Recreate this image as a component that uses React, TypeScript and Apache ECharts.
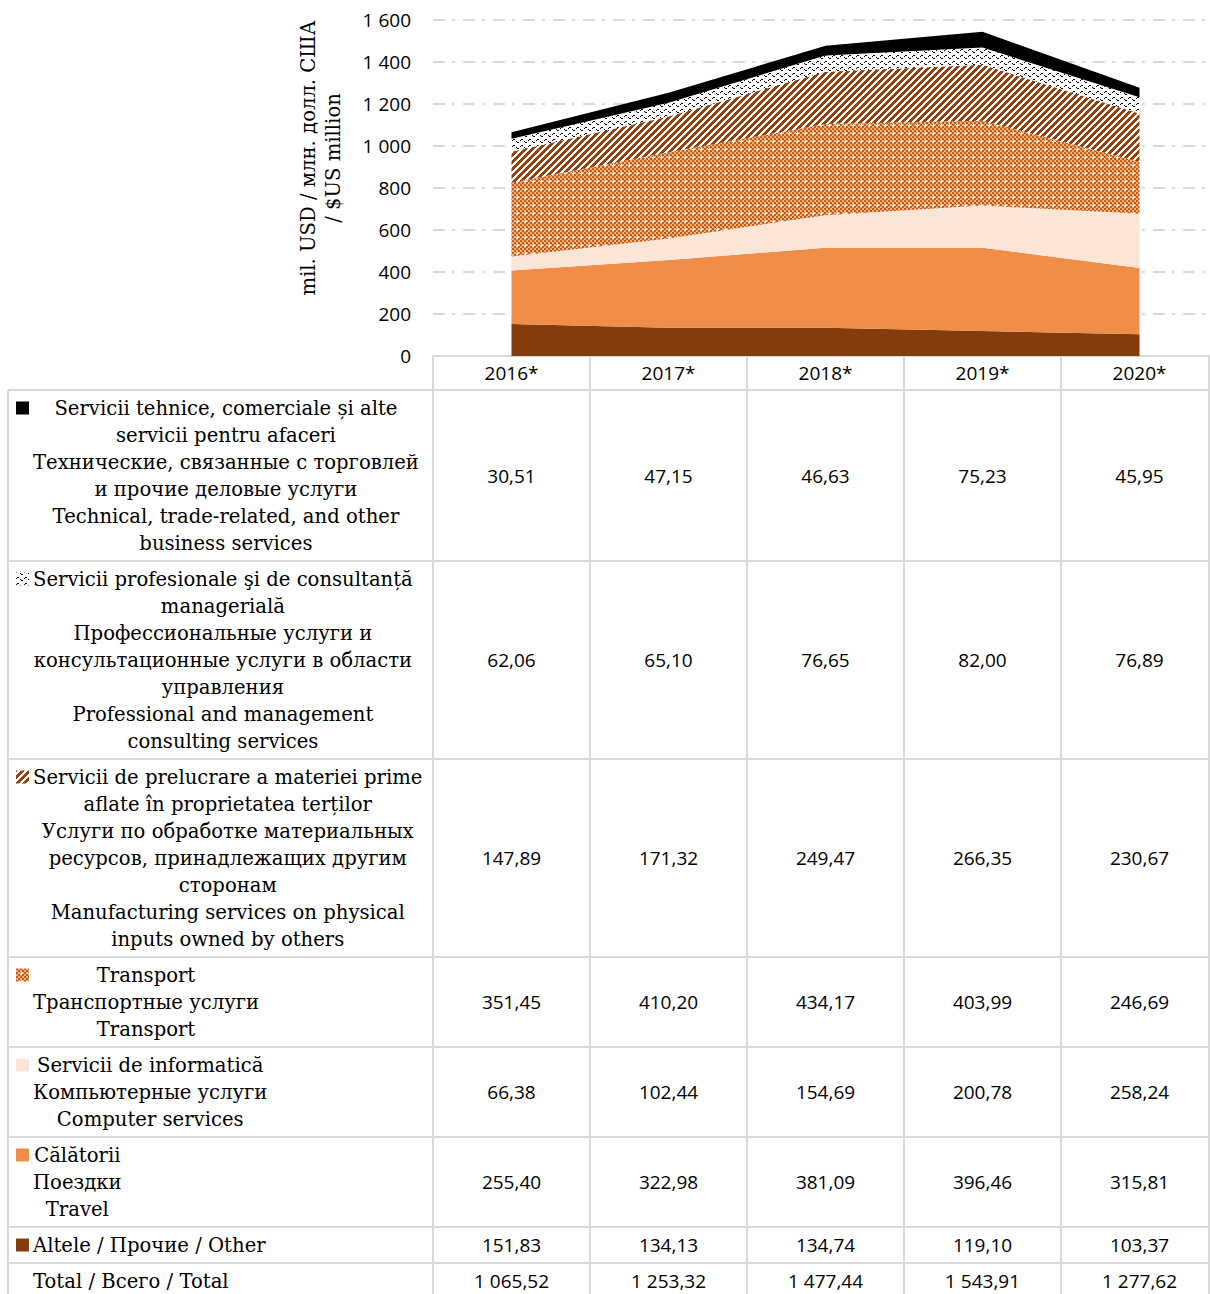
import { useEffect, useRef } from "react";
import * as echarts from "echarts";

const categories = ["2016*", "2017*", "2018*", "2019*", "2020*"];
const technical = [30.51, 47.15, 46.63, 75.23, 45.95];
const professional = [62.06, 65.1, 76.65, 82.0, 76.89];
const manufacturing = [147.89, 171.32, 249.47, 266.35, 230.67];
const transport = [351.45, 410.2, 434.17, 403.99, 246.69];
const computer = [66.38, 102.44, 154.69, 200.78, 258.24];
const travel = [255.4, 322.98, 381.09, 396.46, 315.81];
const other = [151.83, 134.13, 134.74, 119.1, 103.37];

const technicalLabel = [
  "Servicii tehnice, comerciale și alte",
  "servicii pentru afaceri",
  "Технические, связанные с торговлей",
  "и прочие деловые услуги",
  "Technical, trade-related, and other",
  "business services",
];
const professionalLabel = [
  "Servicii profesionale şi de consultanță",
  "managerială",
  "Профессиональные услуги и",
  "консультационные услуги в области",
  "управления",
  "Professional and management",
  "consulting services",
];
const manufacturingLabel = [
  "Servicii de prelucrare a materiei prime",
  "aflate în proprietatea terților",
  "Услуги по обработке материальных",
  "ресурсов, принадлежащих другим",
  "сторонам",
  "Manufacturing services on physical",
  "inputs owned by others",
];
const transportLabel = ["Transport", "Транспортные услуги", "Transport"];
const computerLabel = ["Servicii de informatică", "Компьютерные услуги", "Computer services"];
const travelLabel = ["Călătorii", "Поездки", "Travel"];
const otherLabel = ["Altele / Прочие / Other"];
const totalLabel = ["Total / Всего / Total"];
const axisTitle = ["mil. USD / млн. долл. США", "/ $US million"];

const GRID = "#d9d9d9";
const SANS = "'Open Sans', 'Noto Sans', sans-serif";
const SERIF = "'DejaVu Serif', serif";

function makePattern(w: number, h: number, bg: string, painter: (x: number, y: number) => string | null) {
  const c = document.createElement("canvas");
  c.width = w;
  c.height = h;
  const ctx = c.getContext("2d")!;
  ctx.fillStyle = bg;
  ctx.fillRect(0, 0, w, h);
  for (let y = 0; y < h; y++) {
    for (let x = 0; x < w; x++) {
      const col = painter(x, y);
      if (col) {
        ctx.fillStyle = col;
        ctx.fillRect(x, y, 1, 1);
      }
    }
  }
  return { image: c.toDataURL(), repeat: "repeat", imageWidth: w, imageHeight: h } as any;
}

function fmt(v: number) {
  const s = v.toFixed(2);
  const [i, d] = s.split(".");
  const ii = i.length > 3 ? i.slice(0, i.length - 3) + " " + i.slice(i.length - 3) : i;
  return ii + "," + d;
}

export default function App() {
  const ref = useRef<HTMLDivElement>(null);
  useEffect(() => {
    const chart = echarts.init(ref.current!, null, { renderer: "svg" });

    const hatch = makePattern(7, 7, "#ffffff", (x, y) => ((x + y) % 7 < 4 ? "#93420f" : null));
    const dots = makePattern(8, 8, "#f4b183", (x, y) => {
      if ((x === 5 && y >= 4 && y <= 6) || (y === 5 && x >= 4 && x <= 6)) return "#ffffff";
      return ((x >> 1) + (y >> 1)) % 2 === 0 ? "#c55a11" : null;
    });
    const waveY = [2, 1, 1, 2, 3, 4, 4, 3];
    const waves = makePattern(8, 6, "#ffffff", (x, y) => (waveY[x] === y && x % 4 !== 3 ? "#000000" : null));

    const fills = {
      technical: "#000000",
      professional: waves,
      manufacturing: hatch,
      transport: dots,
      computer: "#fbe5d6",
      travel: "#f08d49",
      other: "#843c0c",
    };

    const mk = (name: string, data: number[], color: any) => ({
      name,
      type: "line",
      stack: "all",
      data,
      symbol: "none",
      showSymbol: false,
      silent: true,
      lineStyle: { width: 0 },
      areaStyle: { color, opacity: 1 },
      emphasis: { disabled: true },
    });

    chart.setOption({
      animation: false,
      backgroundColor: "#ffffff",
      grid: { left: 433, top: 20, right: -8, height: 336, containLabel: false, outerBoundsMode: "none" },
      xAxis: {
        type: "category",
        data: categories,
        boundaryGap: true,
        axisLine: { show: true, lineStyle: { color: GRID, width: 2 } },
        axisTick: { show: false },
        axisLabel: { margin: 7, color: "#000", fontFamily: SANS, fontSize: 19 },
        splitLine: { show: false },
      },
      yAxis: {
        type: "value",
        min: 0,
        max: 1600,
        interval: 200,
        axisLine: { show: false },
        axisTick: { show: false },
        axisLabel: {
          margin: 22,
          color: "#000",
          fontFamily: SANS,
          fontSize: 19,
          formatter: (v: number) => (v >= 1000 ? String(v).replace(/(\d)(\d{3})$/, "$1 $2") : String(v)),
        },
        splitLine: { show: true, lineStyle: { color: GRID, width: 2, type: [12, 7, 3, 8] } },
      },
      series: [
        mk("Other", other, fills.other),
        mk("Travel", travel, fills.travel),
        mk("Computer", computer, fills.computer),
        mk("Transport", transport, fills.transport),
        mk("Manufacturing", manufacturing, fills.manufacturing),
        mk("Professional", professional, fills.professional),
        mk("Technical", technical, fills.technical),
      ],
    });

    const xs = categories.map((c) => chart.convertToPixel({ xAxisIndex: 0 }, c) as number);
    const bw = xs[1] - xs[0];

    const mctx = document.createElement("canvas").getContext("2d")!;
    mctx.font = `20px ${SERIF}`;
    const refW = mctx.measureText("Технические, связанные с торговлей").width;
    const fs = Math.min(21, Math.max(16, (20 * 386) / refW));
    mctx.font = `${fs}px ${SERIF}`;

    const rows: { label: string[]; values: number[] | null; fill: any }[] = [
      { label: technicalLabel, values: technical, fill: fills.technical },
      { label: professionalLabel, values: professional, fill: fills.professional },
      { label: manufacturingLabel, values: manufacturing, fill: fills.manufacturing },
      { label: transportLabel, values: transport, fill: fills.transport },
      { label: computerLabel, values: computer, fill: fills.computer },
      { label: travelLabel, values: travel, fill: fills.travel },
      { label: otherLabel, values: other, fill: fills.other },
      { label: totalLabel, values: null, fill: null },
    ];
    const totals = categories.map((_, i) =>
      Math.round(
        (technical[i] + professional[i] + manufacturing[i] + transport[i] + computer[i] + travel[i] + other[i]) * 100
      ) / 100
    );

    const LH = 27;
    const g: any[] = [];
    let top = 390;
    const lineYs: number[] = [top];
    rows.forEach((r) => {
      const h = r.label.length * LH + 9;
      const cy = top + h / 2;
      const firstY = cy - ((r.label.length - 1) * LH) / 2;
      const maxW = Math.max(...r.label.map((t) => mctx.measureText(t).width));
      const cx = 33 + maxW / 2;
      r.label.forEach((t, k) => {
        g.push({
          type: "text",
          x: cx,
          y: firstY + k * LH,
          silent: true,
          style: {
            text: t,
            font: `${fs}px ${SERIF}`,
            fill: "#000",
            align: "center",
            textAlign: "center",
            verticalAlign: "middle",
            textVerticalAlign: "middle",
          },
        });
      });
      if (r.fill) {
        g.push({
          type: "rect",
          silent: true,
          shape: { x: 16, y: firstY - 6.5, width: 13, height: 13 },
          style: { fill: r.fill, stroke: null },
        });
      }
      const vals = r.values ?? totals;
      vals.forEach((v, i) => {
        g.push({
          type: "text",
          x: xs[i],
          y: cy,
          silent: true,
          style: {
            text: fmt(v),
            font: `19px ${SANS}`,
            fill: "#000",
            align: "center",
            textAlign: "center",
            verticalAlign: "middle",
            textVerticalAlign: "middle",
          },
        });
      });
      top += h;
      lineYs.push(top);
    });

    const stroke = { stroke: GRID, lineWidth: 2 };
    lineYs.forEach((y) => {
      g.push({ type: "line", silent: true, shape: { x1: 8, y1: y, x2: 1210, y2: y }, style: stroke });
    });
    g.push({ type: "line", silent: true, shape: { x1: 8, y1: 390, x2: 8, y2: 1300 }, style: stroke });
    xs.forEach((x) => {
      g.push({ type: "line", silent: true, shape: { x1: x - bw / 2, y1: 356, x2: x - bw / 2, y2: 1300 }, style: stroke });
    });
    g.push({ type: "line", silent: true, shape: { x1: 1209, y1: 356, x2: 1209, y2: 1300 }, style: stroke });

    g.push({
      type: "text",
      x: 321,
      y: 158,
      rotation: Math.PI / 2,
      silent: true,
      style: {
        text: axisTitle.join("\n"),
        font: `${fs}px ${SERIF}`,
        lineHeight: 25,
        fill: "#000",
        align: "center",
        textAlign: "center",
        verticalAlign: "middle",
        textVerticalAlign: "middle",
      },
    });

    chart.setOption({ graphic: { elements: g } });

    return () => chart.dispose();
  }, []);
  return (
    <div
      ref={ref}
      style={{ position: "absolute", left: 0, top: 0, width: 1210, height: 1294, background: "#fff" }}
    />
  );
}
